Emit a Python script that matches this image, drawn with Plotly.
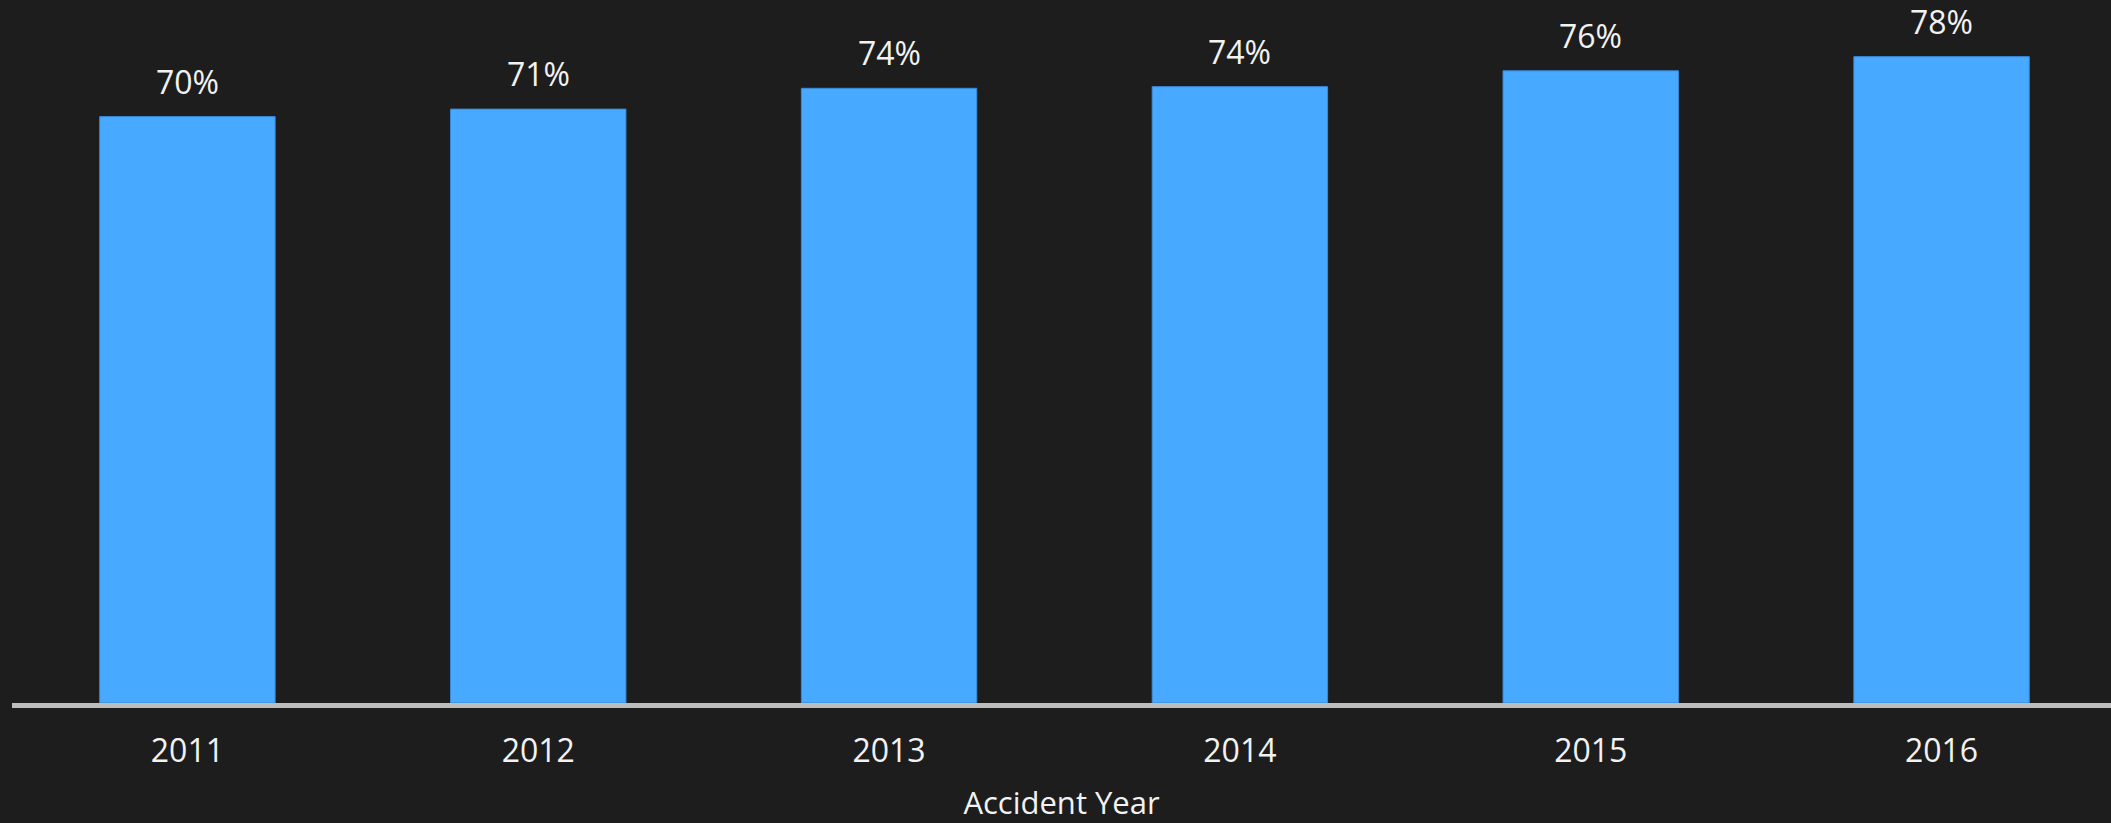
import plotly.graph_objects as go

years = ["2011", "2012", "2013", "2014", "2015", "2016"]
values = [70.4, 71.3, 73.8, 74.0, 75.9, 77.6]
labels = ["70%", "71%", "74%", "74%", "76%", "78%"]

BG = "#1d1d1d"
BAR = "#47a9ff"
TXT = "#f2f2f2"

fig = go.Figure()
fig.add_trace(go.Bar(
    x=years, y=values,
    marker=dict(color=BAR, line=dict(color="#3a8ad6", width=1)),
    width=0.5,
    hoverinfo="skip",
))

for i, (v, t) in enumerate(zip(values, labels)):
    fig.add_annotation(x=i, y=v, text=t, showarrow=False, yanchor="bottom",
                       xanchor="center",
                       yshift=12, font=dict(size=32, color=TXT, family="Open Sans"))

fig.update_layout(
    width=2111, height=823,
    paper_bgcolor=BG, plot_bgcolor=BG,
    margin=dict(l=12, r=0, t=0, b=120),
    showlegend=False,
    font=dict(family="Open Sans", color=TXT),
)
fig.update_xaxes(
    type="category", range=[-0.5, 5.483],
    showline=True, linecolor="#bdbdbd", linewidth=5,
    showgrid=False, ticks="", tickfont=dict(size=32, color=TXT),
    ticklabelstandoff=16,
    title=dict(text="Accident Year", font=dict(size=31, color=TXT), standoff=24),
)
fig.update_yaxes(visible=False, range=[0, 84.4], showgrid=False, zeroline=False)

fig.write_html("out.html", config={"displayModeBar": False},
               post_script="document.body.style.margin='0';document.body.style.background='%s';" % BG)
